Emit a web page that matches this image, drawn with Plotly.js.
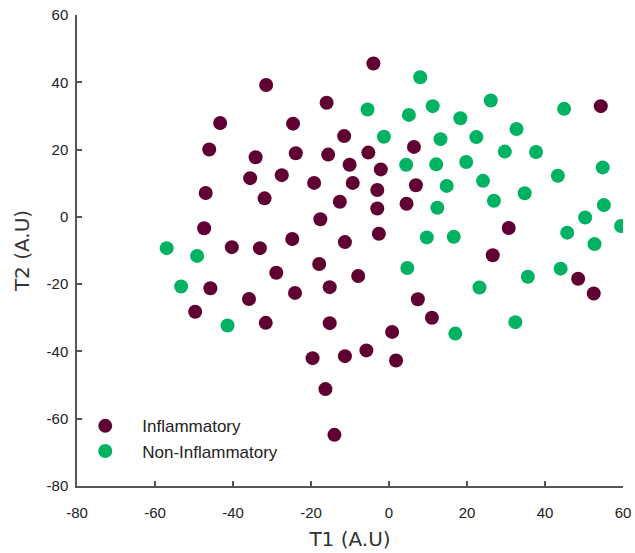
<!DOCTYPE html>
<html>
<head>
<meta charset="utf-8">
<script src="https://cdn.plot.ly/plotly-3.0.1.min.js"></script>
<style>html,body{margin:0;padding:0;background:#fff;}#chart{width:635px;height:553px;}</style>
</head>
<body>
<div id="chart"></div>
<script>
// Inflammatory samples
var inflT1 = [-4.0,-31.5,-16.0,-43.3,-24.6,-11.5,-46.1,-34.2,-23.9,-15.6,-10.1,-5.3,6.4,54.3,-35.6,-27.5,-19.2,-9.3,-2.1,6.9,-3.0,-47.0,-31.9,-12.6,-3.0,4.5,-17.6,-47.4,-24.8,-11.3,-40.3,-33.1,-2.6,30.7,26.6,-17.9,-28.9,-7.9,-45.8,-15.2,-24.1,-35.9,48.5,52.5,7.4,-49.7,-31.6,-15.2,11.0,0.8,-5.8,-19.6,-11.3,1.8,-16.3,-14.0];
var inflT2 = [45.6,39.2,33.9,27.9,27.7,24.0,20.0,17.7,18.9,18.5,15.5,19.1,20.8,32.9,11.5,12.4,10.1,10.1,14.1,9.4,8.0,7.1,5.5,4.5,2.5,3.9,-0.7,-3.4,-6.6,-7.5,-9.0,-9.3,-5.0,-3.3,-11.4,-14.0,-16.6,-17.6,-21.2,-20.9,-22.6,-24.4,-18.4,-22.8,-24.5,-28.2,-31.5,-31.6,-30.0,-34.2,-39.7,-42.0,-41.4,-42.7,-51.2,-64.8];
// Non-inflammatory samples
var nonT1 = [8.0,-5.5,5.1,11.2,18.3,26.1,44.9,-1.3,13.2,22.4,32.7,29.7,37.7,4.4,12.1,19.8,54.8,43.3,14.8,24.1,34.8,26.9,12.4,55.1,50.3,59.5,45.7,52.7,9.7,16.6,4.7,23.2,35.6,44.0,17.0,32.4,-57.0,-49.2,-53.3,-41.4];
var nonT2 = [41.5,31.9,30.3,32.9,29.3,34.6,32.1,23.8,23.1,23.7,26.1,19.4,19.3,15.5,15.6,16.3,14.7,12.2,9.2,10.7,7.0,4.8,2.7,3.5,-0.2,-2.7,-4.7,-8.1,-6.1,-5.9,-15.2,-21.0,-17.8,-15.4,-34.7,-31.3,-9.3,-11.6,-20.7,-32.3];
var seriesNames = ['Inflammatory','Non-Inflammatory'];
var tickVals = [-80,-60,-40,-20,0,20,40,60];

var traces = [
  {x: inflT1, y: inflT2, name: seriesNames[0], type: 'scatter', mode: 'markers',
   marker: {color: '#600032', size: 14, line: {width: 0}}},
  {x: nonT1, y: nonT2, name: seriesNames[1], type: 'scatter', mode: 'markers',
   marker: {color: '#00b262', size: 14, line: {width: 0}}}
];

var axisCommon = {
  range: [-80, 60], tickvals: tickVals, ticktext: tickVals.map(String),
  showgrid: false, zeroline: false, showline: true, linecolor: '#555', linewidth: 1.5,
  ticks: 'inside', ticklen: 5, tickwidth: 1.5, tickcolor: '#555',
  tickfont: {family: 'Liberation Sans, Arial, sans-serif', size: 15, color: '#222'}
};

var layout = {
  width: 635, height: 553,
  margin: {l: 77, r: 12, t: 15, b: 67, pad: 0},
  paper_bgcolor: '#fff', plot_bgcolor: '#fff',
  showlegend: true,
  legend: {x: -0.016, y: 0.165, xanchor: 'left', yanchor: 'top', bgcolor: 'rgba(0,0,0,0)',
    font: {family: 'Liberation Sans, Arial, sans-serif', size: 17, color: '#222'},
    itemsizing: 'trace', itemwidth: 64, tracegroupgap: 0},
  xaxis: Object.assign({}, axisCommon, {
    title: {text: 'T1 (A.U)', font: {family: 'DejaVu Sans, sans-serif', size: 20, color: '#333'}, standoff: 12},
    ticklabelstandoff: 12
  }),
  yaxis: Object.assign({}, axisCommon, {
    title: {text: 'T2 (A.U)', font: {family: 'DejaVu Sans, sans-serif', size: 20, color: '#333'}, standoff: 12},
    ticklabelstandoff: 4
  })
};

Plotly.newPlot('chart', traces, layout, {displayModeBar: false});
</script>
</body>
</html>
